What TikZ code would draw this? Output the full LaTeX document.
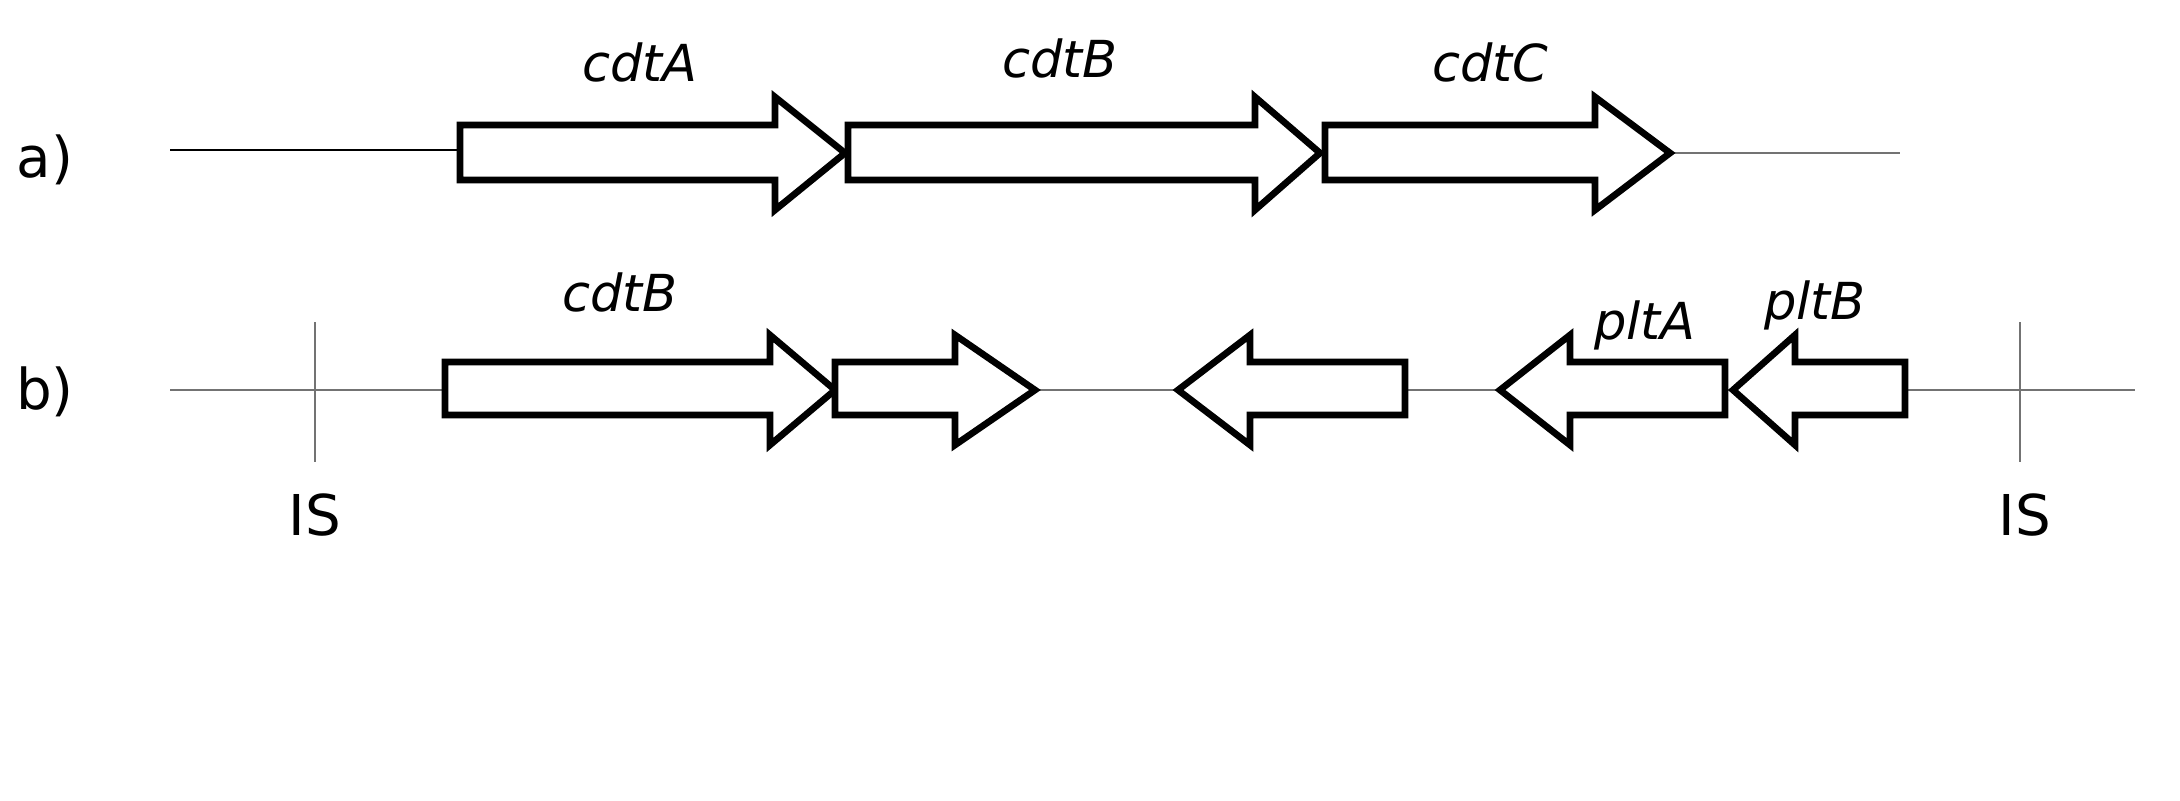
\documentclass[tikz,border=0pt]{standalone}
\usepackage{fontspec}
\setmainfont{DejaVu Sans}
\begin{document}
\begin{tikzpicture}[x=0.01cm,y=-0.01cm,
  gene/.style={draw=black,line width=1.9pt,fill=white,line join=miter},
  thin/.style={line width=0.8pt,draw=black!55},
  lab/.style={font=\fontsize{14.5}{17}\selectfont\itshape},
  tag/.style={font=\fontsize{16}{19}\selectfont}]
\useasboundingbox (0,0) rectangle (2180,800);
% row a
\draw[line width=0.8pt] (170,150) -- (462,150);
\draw[thin] (1670,153) -- (1900,153);
\foreach \a/\b/\c in {460/775/845, 848/1255/1320, 1325/1595/1670}{
  \draw[gene] (\a,125) -- (\b,125) -- (\b,97) -- (\c,153) -- (\b,210) -- (\b,180) -- (\a,180) -- cycle;}
\node[lab] at (640,62) {cdtA};
\node[lab] at (1060,58) {cdtB};
\node[lab] at (1490,62) {cdtC};
\node[tag] at (45,160) {a)};
% row b
\draw[thin] (170,390) -- (2135,390);
\draw[thin] (315,322) -- (315,462);
\draw[thin] (2020,322) -- (2020,462);
\node[tag] at (315,515) {IS};
\node[tag] at (2025,515) {IS};
\foreach \a/\b/\c in {445/770/835, 835/955/1035}{
  \draw[gene] (\a,362) -- (\b,362) -- (\b,335) -- (\c,390) -- (\b,445) -- (\b,415) -- (\a,415) -- cycle;}
\foreach \a/\b/\c in {1405/1250/1178, 1725/1570/1500, 1905/1795/1733}{
  \draw[gene] (\a,362) -- (\b,362) -- (\b,335) -- (\c,390) -- (\b,445) -- (\b,415) -- (\a,415) -- cycle;}
\node[lab] at (620,292) {cdtB};
\node[lab] at (1645,325) {pltA};
\node[lab] at (1815,305) {pltB};
\node[tag] at (45,392) {b)};
\end{tikzpicture}
\end{document}
